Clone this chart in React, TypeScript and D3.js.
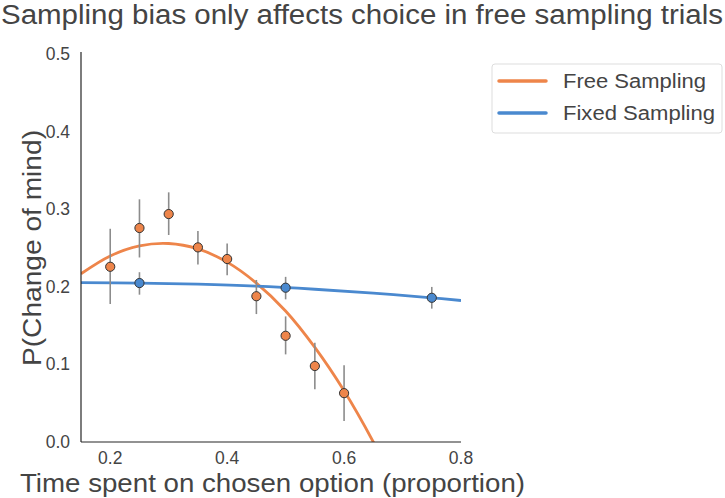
import React from "react";
import * as d3 from "d3";

const freeX = [0.2, 0.25, 0.3, 0.35, 0.4, 0.45, 0.5, 0.55, 0.6];
const freeY = [0.226, 0.276, 0.294, 0.251, 0.236, 0.188, 0.137, 0.098, 0.063];
const freeLo = [0.178, 0.238, 0.267, 0.229, 0.215, 0.165, 0.113, 0.068, 0.027];
const freeHi = [0.275, 0.313, 0.322, 0.272, 0.256, 0.209, 0.162, 0.128, 0.099];

const fixedX = [0.25, 0.5, 0.75];
const fixedY = [0.205, 0.199, 0.186];
const fixedLo = [0.19, 0.184, 0.172];
const fixedHi = [0.219, 0.213, 0.2];

const freeFitX = [0.15, 0.2, 0.25, 0.3, 0.35, 0.4, 0.45, 0.5, 0.55, 0.6, 0.65, 0.67];
const freeFitY = [0.217, 0.24, 0.253, 0.256, 0.249, 0.232, 0.205, 0.169, 0.122, 0.066, 0.0, -0.03];
const fixedFitX = [0.15, 0.25, 0.35, 0.45, 0.55, 0.65, 0.75, 0.8];
const fixedFitY = [0.2055, 0.205, 0.2035, 0.201, 0.197, 0.192, 0.186, 0.1825];

const xTicks = [0.2, 0.4, 0.6, 0.8];
const yTicks = [0.0, 0.1, 0.2, 0.3, 0.4, 0.5];

const ORANGE = "#EE854A";
const BLUE = "#4A89CF";
const TEXT = "#444444";
const FONT = "'Liberation Sans', Arial, Helvetica, sans-serif";

export default function App() {
  const W = 725, H = 498;
  const left = 81, right = 461, top = 52, bottom = 442;
  const x = d3.scaleLinear().domain([0.15, 0.8]).range([left, right]);
  const y = d3.scaleLinear().domain([0, 0.503]).range([bottom, top]);
  const line = d3.line<[number, number]>().x(d => x(d[0])).y(d => y(d[1])).curve(d3.curveCatmullRom);
  const freeFit = freeFitX.map((v, i) => [v, freeFitY[i]] as [number, number]);
  const fixedFit = fixedFitX.map((v, i) => [v, fixedFitY[i]] as [number, number]);

  return (
    <svg width={W} height={H} style={{ position: "absolute", left: 0, top: 0, fontFamily: FONT }}>
      <rect width={W} height={H} fill="#fff" />
      <defs>
        <clipPath id="plot">
          <rect x={left} y={top} width={right - left} height={bottom - top} />
        </clipPath>
      </defs>
      <text x={1} y={24} fontSize={27} fill={TEXT} textLength={722} lengthAdjust="spacingAndGlyphs">
        Sampling bias only affects choice in free sampling trials
      </text>
      {yTicks.map(t => (
        <text key={t} x={70} y={y(t) + 6} fontSize={17.5} fill={TEXT} textAnchor="end">{t.toFixed(1)}</text>
      ))}
      {xTicks.map(t => (
        <text key={t} x={x(t)} y={bottom + 22} fontSize={17.5} fill={TEXT} textAnchor="middle">{t.toFixed(1)}</text>
      ))}
      <text transform={`translate(41,${248}) rotate(-90)`} fontSize={26.5} fill={TEXT} textAnchor="middle"
        textLength={236} lengthAdjust="spacingAndGlyphs">
        P(Change of mind)
      </text>
      <text x={20} y={492} fontSize={26.5} fill={TEXT} textLength={505} lengthAdjust="spacingAndGlyphs">
        Time spent on chosen option (proportion)
      </text>
      <g clipPath="url(#plot)">
        <path d={line(freeFit) || ""} fill="none" stroke={ORANGE} strokeWidth={2.8} />
        <path d={line(fixedFit) || ""} fill="none" stroke={BLUE} strokeWidth={2.8} />
      </g>
      {freeX.map((v, i) => (
        <line key={"fe" + i} x1={x(v)} x2={x(v)} y1={y(freeLo[i])} y2={y(freeHi[i])} stroke="#8c8c8c" strokeWidth={1.6} />
      ))}
      {fixedX.map((v, i) => (
        <line key={"xe" + i} x1={x(v)} x2={x(v)} y1={y(fixedLo[i])} y2={y(fixedHi[i])} stroke="#8c8c8c" strokeWidth={1.6} />
      ))}
      {freeX.map((v, i) => (
        <circle key={"fp" + i} cx={x(v)} cy={y(freeY[i])} r={4.6} fill={ORANGE} stroke="#333" strokeWidth={1} />
      ))}
      {fixedX.map((v, i) => (
        <circle key={"xp" + i} cx={x(v)} cy={y(fixedY[i])} r={4.6} fill={BLUE} stroke="#333" strokeWidth={1} />
      ))}
      <line x1={left} x2={left} y1={top} y2={bottom} stroke="#262626" strokeWidth={1.2} />
      <line x1={left} x2={right} y1={bottom} y2={bottom} stroke="#262626" strokeWidth={1.2} />
      <g>
        <rect x={492} y={64} width={230} height={69} rx={3} fill="#fff" stroke="#dddddd" strokeWidth={1} />
        <line x1={499} x2={546} y1={81} y2={81} stroke={ORANGE} strokeWidth={3.5} strokeLinecap="round" />
        <line x1={499} x2={546} y1={113} y2={113} stroke={BLUE} strokeWidth={3.5} strokeLinecap="round" />
        <text x={563} y={88} fontSize={19.5} fill={TEXT} textLength={143} lengthAdjust="spacingAndGlyphs">Free Sampling</text>
        <text x={563} y={120} fontSize={19.5} fill={TEXT} textLength={152} lengthAdjust="spacingAndGlyphs">Fixed Sampling</text>
      </g>
    </svg>
  );
}
